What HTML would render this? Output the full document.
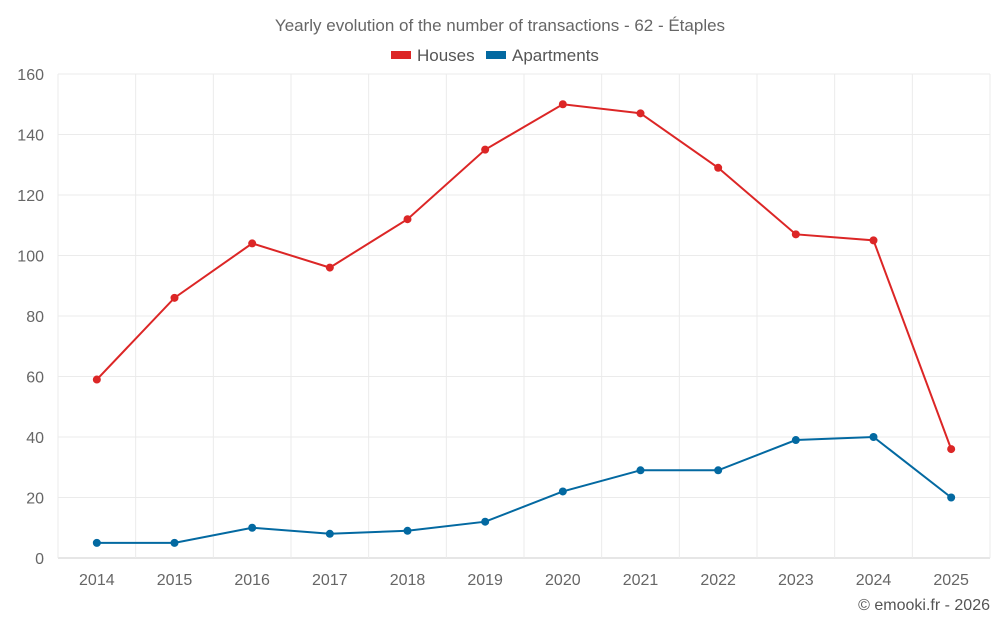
<!DOCTYPE html>
<html><head><meta charset="utf-8"><style>
body{margin:0;background:#fff;font-family:"Liberation Sans",sans-serif;}
svg text{font-family:"Liberation Sans",sans-serif;}
</style></head><body>
<svg id="c" width="1000" height="625" xmlns="http://www.w3.org/2000/svg">
<text x="500" y="31" text-anchor="middle" font-size="17" fill="#666">Yearly evolution of the number of transactions - 62 - Étaples</text>
<g><rect x="391" y="51" width="20" height="8" fill="#dc2626"/><text x="417" y="61" font-size="17" fill="#555">Houses</text></g>
<g><rect x="486" y="51" width="20" height="8" fill="#0369a1"/><text x="512" y="61" font-size="17" fill="#555">Apartments</text></g>
<g id="grid"></g><g id="axes"></g><g id="series"></g>
<text x="990" y="610" text-anchor="end" font-size="16" fill="#555">© emooki.fr - 2026</text>
</svg>
<script>
const categories=["2014","2015","2016","2017","2018","2019","2020","2021","2022","2023","2024","2025"];
const houses=[59,86,104,96,112,135,150,147,129,107,105,36];
const apartments=[5,5,10,8,9,12,22,29,29,39,40,20];
const yTicks=[0,20,40,60,80,100,120,140,160];
const L=58,R=990,T=74,B=558,yMax=160;
const bw=(R-L)/categories.length;
const xs=i=>L+bw*(i+0.5);
const ys=v=>B-(v/yMax)*(B-T);
const NS="http://www.w3.org/2000/svg";
function mk(tag,attrs,parent){const e=document.createElementNS(NS,tag);for(const k in attrs)e.setAttribute(k,attrs[k]);parent.appendChild(e);return e;}
const grid=document.getElementById('grid'),axes=document.getElementById('axes'),series=document.getElementById('series');
yTicks.forEach(v=>{
 const l=mk('line',{x1:L,x2:R,y1:ys(v),y2:ys(v),stroke:v===0?'#ccc':'#ebebeb'},grid);
 
 
 const t=mk('text',{x:L-14,y:ys(v)+6,'text-anchor':'end','font-size':16,fill:'#666'},axes);
 t.textContent=v;
 
 
});
for(let i=0;i<=categories.length;i++){
 const l=mk('line',{x1:L+bw*i,x2:L+bw*i,y1:T,y2:B,stroke:'#ebebeb'},grid);
 
 
}
categories.forEach((c,i)=>{
 const t=mk('text',{x:xs(i),y:585,'text-anchor':'middle','font-size':16,fill:'#666'},axes);
 t.textContent=c;
 
 
});
function draw(data,color,name){
 const p=mk('polyline',{points:data.map((v,i)=>xs(i)+','+ys(v)).join(' '),fill:'none',stroke:color,'stroke-width':2},series);
 
 
 data.forEach((v,i)=>{
  const c=mk('circle',{cx:xs(i),cy:ys(v),r:4,fill:color},series);
  
  
 });
}
draw(houses,'#dc2626','houses');
draw(apartments,'#0369a1','apartments');
</script>
</body></html>
